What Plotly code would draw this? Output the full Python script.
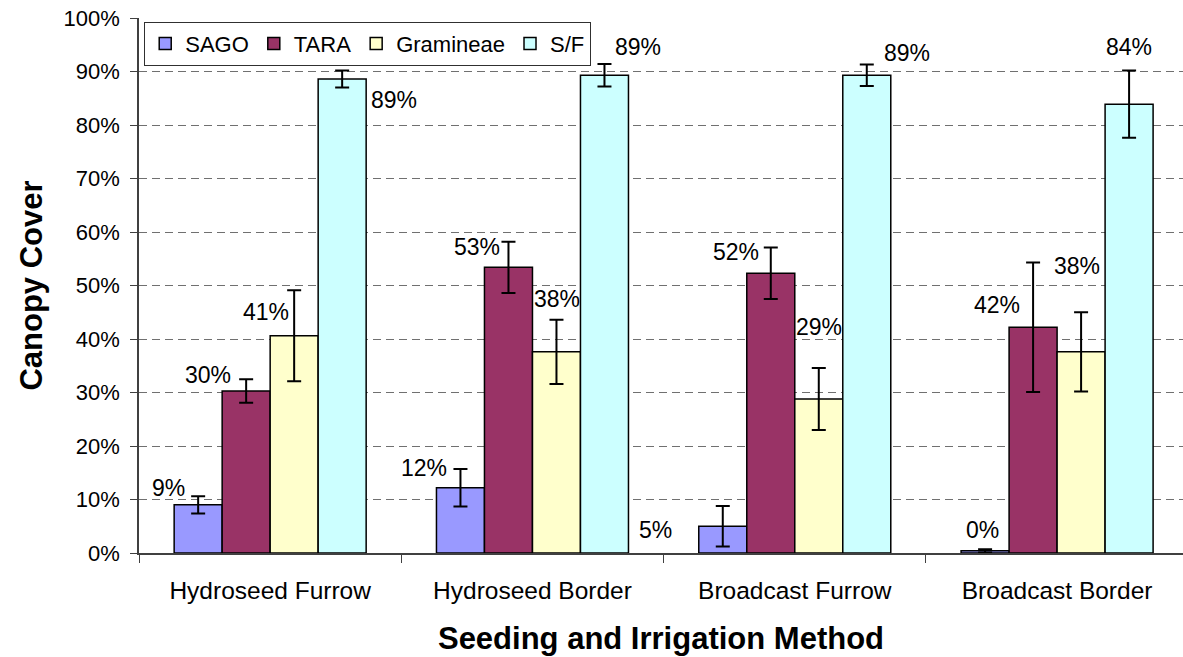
import plotly.graph_objects as go

# Seeding / irrigation treatments and the canopy cover measured for each species group
methods = ["Hydroseed Furrow", "Hydroseed Border", "Broadcast Furrow", "Broadcast Border"]
species = ["SAGO", "TARA", "Gramineae", "S/F"]

sago = [0.090, 0.122, 0.050, 0.004]
tara = [0.303, 0.534, 0.523, 0.422]
gramineae = [0.406, 0.376, 0.288, 0.376]
sf = [0.886, 0.893, 0.893, 0.839]

sago_err = [0.016, 0.035, 0.038, 0.003]
tara_err = [0.022, 0.048, 0.048, 0.121]
gramineae_err = [0.085, 0.060, 0.058, 0.074]
sf_err = [0.016, 0.021, 0.020, 0.063]

series = [sago, tara, gramineae, sf]
errors = [sago_err, tara_err, gramineae_err, sf_err]
colors = ["#9999FF", "#993366", "#FFFFCC", "#CCFFFF"]

# pixel offsets of each value label from the top-centre of its bar (dx, dy up)
label_offsets = [
    [(-30, 17), (-36, 20), (-67, -4), (-3, 21)],
    [(-38, 16), (-31, 20), (-35, 21), (-36, 22)],
    [(-28, 24), (1, 53), (0, 72), (-4, 86)],
    [(52, -21), (34, 28), (40, 22), (0, 57)],
]

font = "Liberation Sans, Arial, sans-serif"
bargap = 0.268
n = len(species)
slot = (1 - bargap) / n

fig = go.Figure()
for j, (name, vals, errs, col) in enumerate(zip(species, series, errors, colors)):
    fig.add_trace(go.Bar(
        name=name,
        x=methods,
        y=vals,
        marker=dict(color=col, line=dict(color="black", width=1.5)),
        error_y=dict(type="data", array=errs, visible=True,
                     color="black", thickness=2, width=7),
    ))

annotations = []
for j, vals in enumerate(series):
    for i, v in enumerate(vals):
        dx, dy = label_offsets[j][i]
        annotations.append(dict(
            x=i + (j - (n - 1) / 2) * slot,
            y=v,
            xref="x", yref="y",
            text=f"{v:.0%}",
            showarrow=False,
            xanchor="center", yanchor="middle",
            xshift=dx, yshift=dy,
            font=dict(family=font, size=23, color="black"),
        ))

fig.update_layout(
    width=1183, height=657,
    margin=dict(l=139, r=0, t=18, b=104),
    paper_bgcolor="white",
    plot_bgcolor="white",
    barmode="group",
    bargap=bargap,
    bargroupgap=0,
    font=dict(family=font, color="black"),
    annotations=annotations,
    legend=dict(
        orientation="h",
        x=0.005, y=0.993, xanchor="left", yanchor="top",
        bgcolor="white",
        bordercolor="#303030", borderwidth=1,
        font=dict(family=font, size=22, color="black"),
        itemwidth=30,
        traceorder="normal",
    ),
    xaxis=dict(
        range=[-0.5, 3.48],
        showline=True, linecolor="#404040", linewidth=1.5,
        ticks="outside", tickson="boundaries", ticklen=8, tickcolor="#404040",
        tickfont=dict(family=font, size=24.5, color="black"),
        ticklabelstandoff=15,
        showgrid=False,
        title=dict(text="<b>Seeding and Irrigation Method</b>",
                   font=dict(family=font, size=31, color="black"),
                   standoff=24),
    ),
    yaxis=dict(
        range=[0, 1],
        tickvals=[i / 10 for i in range(11)],
        tickformat=".0%",
        showline=True, linecolor="#404040", linewidth=1.5,
        ticks="outside", ticklen=7, tickcolor="#404040",
        tickfont=dict(family=font, size=22, color="black"),
        ticklabelstandoff=6,
        showgrid=True, gridcolor="#707070", gridwidth=1, griddash="8px,5px",
        zeroline=False,
        title=dict(text="<b>Canopy Cover</b>",
                   font=dict(family=font, size=31, color="black"),
                   standoff=12),
    ),
)

fig.write_html("out.html")
